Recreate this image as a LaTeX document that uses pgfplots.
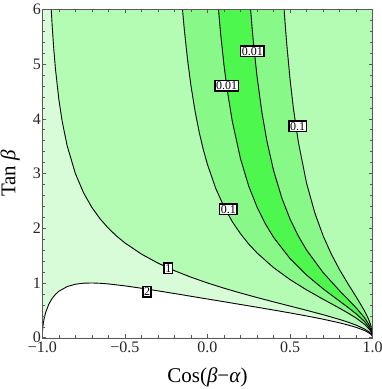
\documentclass[border=0pt]{standalone}
\usepackage{fontspec}
\setmainfont{Liberation Serif}
\usepackage{pgfplots}
\pgfplotsset{compat=1.18}
\usepackage{pgfplotstable}
\definecolor{cA}{RGB}{216,252,216}
\definecolor{cB}{RGB}{180,251,180}
\definecolor{cC}{RGB}{136,249,136}
\definecolor{cD}{RGB}{77,247,77}
\definecolor{framec}{gray}{0.35}

% contour f = 2
\pgfplotstableread{
x y
-1 0
-0.9999 0.0341
-0.999 0.1077
-0.995 0.2382
-0.99 0.3326
-0.98 0.4583
-0.96 0.6165
-0.94 0.7194
-0.92 0.7930
-0.9 0.8477
-0.85 0.9337
-0.8 0.9769
-0.75 0.9958
-0.7 0.9999
-0.65 0.9944
-0.6 0.9825
-0.5 0.9473
-0.4 0.9037
-0.3 0.8562
-0.2 0.8069
-0.1 0.7571
0 0.7071
0.1 0.6571
0.2 0.6070
0.3 0.5565
0.4 0.5052
0.5 0.4524
0.6 0.3972
0.7 0.3378
0.8 0.2710
0.85 0.2327
0.9 0.1884
0.95 0.1321
0.98 0.0831
0.99 0.0587
0.995 0.0415
0.999 0.0185
1 0
}\ctwo
% contour f = 1
\pgfplotstableread{
x y
-0.94595 6
-0.94 5.686
-0.93 5.251
-0.92 4.899
-0.9 4.359
-0.88 3.958
-0.85 3.512
-0.8 3
-0.75 2.646
-0.7 2.380
-0.65 2.171
-0.6 2
-0.55 1.856
-0.5 1.732
-0.4 1.528
-0.3 1.363
-0.2 1.2247
-0.1 1.1055
0 1
0.1 0.9045
0.2 0.8165
0.3 0.7338
0.4 0.6547
0.5 0.5774
0.6 0.5
0.7 0.4201
0.8 0.3333
0.85 0.2847
0.9 0.2294
0.95 0.1601
0.98 0.1005
0.99 0.0709
0.995 0.0501
0.999 0.0224
1 0
}\cone
% contour f = 0.1, left branch
\pgfplotstableread{
x y
-0.1515 6
-0.14 5.618
-0.12 5.059
-0.1 4.602
-0.075 4.134
-0.05 3.751
-0.025 3.433
0 3.162
0.05 2.727
0.1 2.390
0.15 2.121
0.2 1.898
0.25 1.710
0.3 1.548
0.4 1.280
0.5 1.061
0.6 0.8731
0.7 0.7027
0.8 0.5375
0.85 0.4517
0.9 0.3584
0.95 0.2466
0.98 0.1535
0.99 0.1080
0.995 0.0762
0.999 0.0340
1 0
}\cLa
% contour f = 0.01, left branch
\pgfplotstableread{
x y
0.0663 6
0.08 5.538
0.1 4.975
0.12 4.513
0.15 3.955
0.2 3.266
0.25 2.766
0.3 2.385
0.35 2.082
0.4 1.833
0.5 1.443
0.6 1.143
0.7 0.8927
0.8 0.6667
0.85 0.5545
0.9 0.4359
0.95 0.2974
0.98 0.1843
0.99 0.1294
0.995 0.0912
0.999 0.0407
1 0
}\cLb
% contour f = 0.01, right branch
\pgfplotstableread{
x y
0.2609 6
0.27 5.664
0.28 5.333
0.3 4.770
0.33 4.104
0.36 3.588
0.4 3.055
0.45 2.552
0.5 2.165
0.55 1.856
0.6 1.6
0.7 1.190
0.8 0.8571
0.85 0.7024
0.9 0.5449
0.95 0.3674
0.98 0.2261
0.99 0.1585
0.995 0.1116
0.999 0.0497
1 0
}\cRb
% contour f = 0.1, right branch
\pgfplotstableread{
x y
0.4639 6
0.47 5.740
0.48 5.357
0.5 4.713
0.52 4.192
0.55 3.573
0.6 2.819
0.65 2.277
0.7 1.861
0.75 1.525
0.8 1.240
0.85 0.9869
0.9 0.7467
0.95 0.4927
0.97 0.3718
0.98 0.2998
0.99 0.2094
0.995 0.1471
0.999 0.0655
1 0
}\cRa

\begin{document}
\begin{tikzpicture}
\path[use as bounding box] (-42.3pt,-51.3pt) rectangle (339.7pt,337.7pt);
\begin{axis}[
  at={(0,0)}, anchor=south west,
  scale only axis, width=330.4pt, height=328.4pt,
  xmin=-1, xmax=1, ymin=0, ymax=6,
  axis on top,
  xtick={-1,-0.5,0,0.5,1},
  xticklabels={−1.0,−0.5,0.0,0.5,1.0},
  ytick={0,1,2,3,4,5,6},
  minor x tick num=4, minor y tick num=4,
  tick align=inside,
  major tick length=4pt, minor tick length=2.5pt,
  axis line style={framec},
  every tick/.style={framec, line width=0.5pt},
  tick label style={font=\fontsize{16}{16}\selectfont, text=black!85},
  yticklabel style={xshift=2pt},
  xticklabel style={yshift=-0.5pt},
  /pgf/number format/assume math mode=true,
  xlabel={Cos(\textit{β}−\textit{α})},
  ylabel={Tan \textit{β}},
  label style={font=\fontsize{21}{21}\selectfont, inner sep=0pt},
  xlabel style={at={(axis description cs:0.5,-0.12)}, anchor=center},
  ylabel style={at={(axis description cs:-0.097,0.5)}, anchor=center},
  clip=true,
]
% fills
\addplot[fill=cA, draw=none] coordinates {(-1,0) (1,0) (1,6) (-1,6)} -- cycle;
\addplot[fill=cB, draw=none] table {\cone} -- (axis cs:1,6) -- cycle;
\addplot[fill=white, draw=none] table {\ctwo} -- cycle;
\addplot[fill=cC, draw=none] table {\cLa} -- (axis cs:1,6) -- cycle;
\addplot[fill=cD, draw=none] table {\cLb} -- (axis cs:1,6) -- cycle;
\addplot[fill=cC, draw=none] table {\cRb} -- (axis cs:1,6) -- cycle;
\addplot[fill=cB, draw=none] table {\cRa} -- (axis cs:1,6) -- cycle;
% contour lines
\addplot[black, line width=0.9pt] table {\ctwo};
\addplot[black, line width=0.9pt] table {\cone};
\addplot[black, line width=0.9pt] table {\cLa};
\addplot[black, line width=0.9pt] table {\cLb};
\addplot[black, line width=0.9pt] table {\cRb};
\addplot[black, line width=0.9pt] table {\cRa};
% contour labels
\tikzset{clab/.style={fill=white, draw=black, line width=1.5pt, inner sep=1.2pt,
  font=\fontsize{12}{12}\selectfont}}
\node[clab] at (axis cs:-0.366,0.84) {2};
\node[clab] at (axis cs:-0.237,1.268) {1};
\node[clab] at (axis cs:0.126,2.346) {0.1};
\node[clab] at (axis cs:0.116,4.60) {0.01};
\node[clab] at (axis cs:0.271,5.23) {0.01};
\node[clab] at (axis cs:0.546,3.86) {0.1};
\end{axis}
\end{tikzpicture}
\end{document}
